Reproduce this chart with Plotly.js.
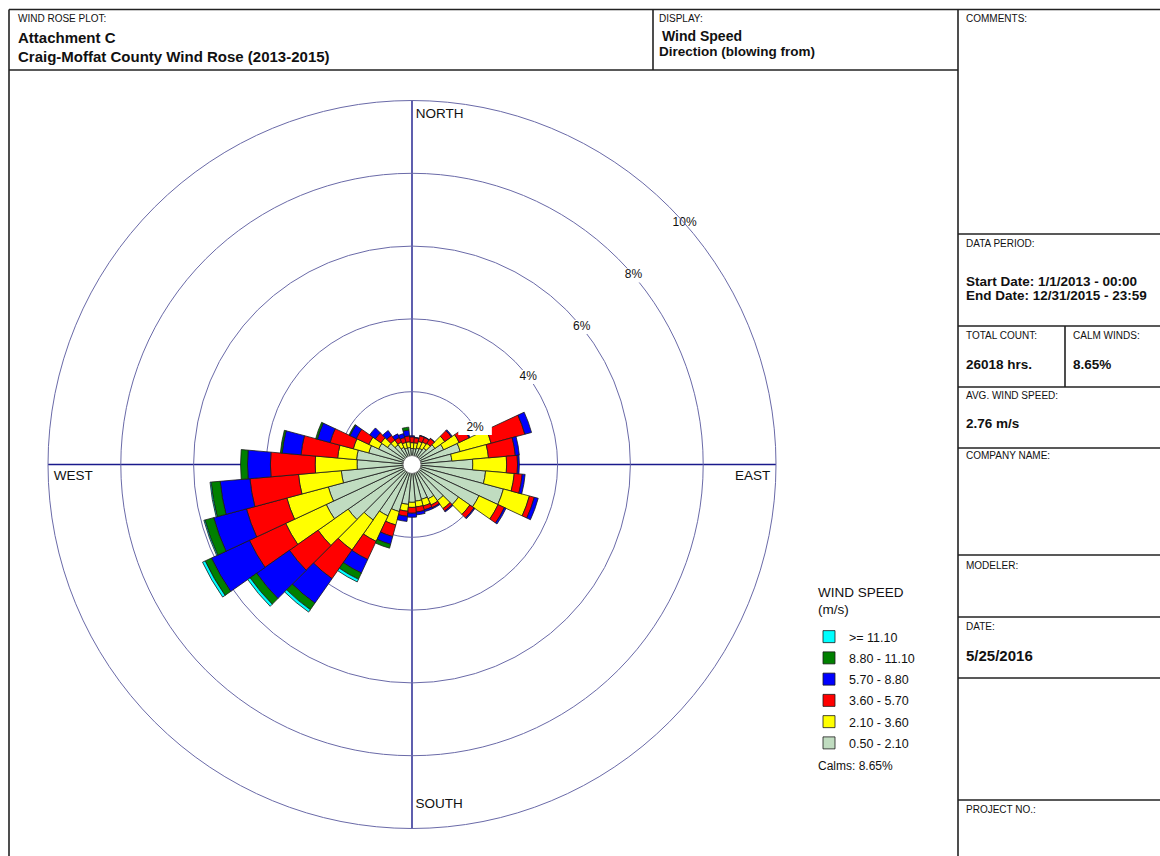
<!DOCTYPE html>
<html><head><meta charset="utf-8">
<script src="https://cdn.plot.ly/plotly-3.0.1.min.js"></script>
<style>html,body{margin:0;padding:0;background:#fff;} #chart{width:1160px;height:856px;}</style>
</head><body><div id="chart"></div>
<script>
// ---------------- DATA ----------------
const directions = [0,10,20,30,40,50,60,70,80,90,100,110,120,130,140,150,160,170,
                    180,190,200,210,220,230,240,250,260,270,280,290,300,310,320,330,340,350];
const speedClasses = ['0.50 - 2.10','2.10 - 3.60','3.60 - 5.70','5.70 - 8.80','8.80 - 11.10','>= 11.10'];
// frequency (%) per direction for each wind speed class (blowing from)
const freq_050_210 = [0.44,0.44,0.47,0.49,0.55,0.77,0.96,1.37,1.10,1.67,2.03,2.60,2.03,1.56,1.21,1.04,0.99,1.01,
                      1.04,1.10,1.34,1.56,1.86,2.14,2.60,2.38,1.95,1.51,1.53,1.23,1.01,0.82,0.66,0.52,0.47,0.47];
const freq_210_360 = [0.16,0.16,0.19,0.19,0.16,0.33,0.47,0.88,1.01,0.93,0.79,0.74,0.58,0.38,0.27,0.19,0.19,0.16,
                      0.14,0.19,0.38,0.77,1.01,1.01,1.23,1.18,1.18,1.15,0.52,0.44,0.30,0.22,0.16,0.16,0.16,0.16];
const freq_360_570 = [0.16,0.14,0.16,0.14,0.16,0.22,0.30,0.96,0.74,0.30,0.22,0.14,0.19,0.14,0.08,0.08,0.11,0.14,
                      0.16,0.14,0.33,0.55,0.96,0.96,1.10,1.15,1.34,1.23,1.01,0.66,0.38,0.19,0.16,0.14,0.14,0.16];
const freq_570_880 = [0.03,0.01,0.01,0.01,0.01,0.03,0.03,0.19,0.11,0.05,0.08,0.11,0.05,0.03,0.03,0.03,0.05,0.08,
                      0.11,0.14,0.22,0.41,0.82,1.10,1.15,0.93,0.82,0.63,0.52,0.36,0.19,0.19,0.16,0.11,0.11,0.16];
const freq_880_1110 = [0,0,0,0,0,0,0,0,0,0,0,0,0,0,0,0,0,0,
                      0,0,0.11,0.19,0.22,0.22,0.19,0.25,0.25,0.19,0.05,0.05,0.03,0,0,0,0,0.08];
const freq_ge_1110 = [0,0,0,0,0,0,0,0,0,0,0,0,0,0,0,0,0,0,
                      0,0,0,0.08,0.08,0.08,0.08,0.03,0.03,0,0,0,0,0,0,0,0,0];
const ringValues = [2,4,6,8,10];
const ringLabels = ['2%','4%','6%','8%','10%'];
const compassLabels = ['NORTH','EAST','SOUTH','WEST'];
const calmsText = 'Calms: 8.65%';

// ---------------- STYLE ----------------
const FONT = '"Liberation Sans", Arial, Helvetica, sans-serif';
const classColors = ['#C0DCC0','#FFFF00','#FF0000','#0000FF','#008000','#00FFFF'];
const classSeries = [freq_050_210,freq_210_360,freq_360_570,freq_570_880,freq_880_1110,freq_ge_1110];
const ringColor = '#6A6AA8';
const axisColor = '#1A1A8C';
const ringLabelTheta = [60,53,51,49.5,48.5];
const compassLabelTheta = [0.6,92,179.4,268];
const compassLabelR = [9.6,9.85,9.35,9.85];

const traces = classSeries.map((vals,i)=>({
  type:'barpolar', r: vals, theta: directions, name: speedClasses[i], legendgroup:'g'+i, legendrank: 100-i,
  marker:{color: classColors[i], line:{color:'#1a1a1a', width:0.8}},
  hoverinfo:'skip'
}));
// calm circle at centre
traces.push({type:'scatterpolar', r:[0], theta:[0], mode:'markers', showlegend:false, hoverinfo:'skip',
  marker:{size:18, color:'#ffffff', line:{color:'#777777', width:1}}});
// ring labels
traces.push({type:'scatterpolar', r: ringValues, theta: ringLabelTheta, mode:'markers+text', text: ringLabels,
  textposition:'middle center', showlegend:false, hoverinfo:'skip', cliponaxis:false,
  textfont:{family:FONT, size:12, color:'#111'},
  marker:{symbol:'line-ew', size:24, color:'#ffffff', line:{color:'#ffffff', width:14}}});
// compass labels
traces.push({type:'scatterpolar', r: compassLabelR, theta: compassLabelTheta, mode:'text', text: compassLabels,
  textposition:['middle right','middle left','middle right','middle right'], showlegend:false, hoverinfo:'skip', cliponaxis:false,
  textfont:{family:FONT, size:13.5, color:'#111'}});

const W=1160, H=856;
const px = x=>x/W, py = y=>1-y/H;
const shapes = [];
function line(x0,y0,x1,y1){shapes.push({type:'line',xref:'paper',yref:'paper',x0:px(x0),y0:py(y0),x1:px(x1),y1:py(y1),line:{color:'#222',width:1.6}});}
line(9,9.5,1160,9.5);      // top
line(9,9.5,9,856);         // left
line(9,70,958,70);         // under header
line(653,9.5,653,70);      // header divider
line(958,9.5,958,856);     // right column
line(958,234,1160,234);
line(958,326,1160,326);
line(1065,326,1065,387);
line(958,387,1160,387);
line(958,448,1160,448);
line(958,555,1160,555);
line(958,617,1160,617);
line(958,678,1160,678);
line(958,800,1160,800);

const annotations = [];
function txt(x,y,t,size,bold){annotations.push({xref:'paper',yref:'paper',x:px(x),y:py(y),xanchor:'left',yanchor:'middle',
  showarrow:false,text: bold?('<b>'+t+'</b>'):t, font:{family:FONT,size:size,color:'#111'}});}
txt(16,18,'WIND ROSE PLOT:',10);
txt(16,37,'Attachment C',15,true);
txt(16,57,'Craig-Moffat County Wind Rose (2013-2015)',15,true);
txt(657,18,'DISPLAY:',10);
txt(660,36,'Wind Speed',14,true);
txt(657,52,'Direction (blowing from)',13.5,true);
txt(964,19,'COMMENTS:',10);
txt(964,243,'DATA PERIOD:',10);
txt(964,281,'Start Date: 1/1/2013 - 00:00',13.5,true);
txt(964,296,'End Date: 12/31/2015 - 23:59',13.5,true);
txt(964,335,'TOTAL COUNT:',10);
txt(1071,335,'CALM WINDS:',10);
txt(964,364,'26018 hrs.',13.5,true);
txt(1071,364,'8.65%',13.5,true);
txt(964,395,'AVG. WIND SPEED:',10);
txt(964,424,'2.76 m/s',13.5,true);
txt(964,456,'COMPANY NAME:',10);
txt(964,565,'MODELER:',10);
txt(964,626,'DATE:',10);
txt(964,655,'5/25/2016',15,true);
txt(964,809,'PROJECT NO.:',10);
txt(816,592,'WIND SPEED',13.5);
txt(816,609,'(m/s)',13.5);
txt(816,766,calmsText,12);

const layout = {
  width:W, height:H, margin:{l:0,r:0,t:0,b:0}, paper_bgcolor:'#fff',
  font:{family:FONT, color:'#111'},
  showlegend:true,
  legend:{x:px(809), xanchor:'left', y:py(622), yanchor:'top', traceorder:'grouped', tracegroupgap:2,
    font:{family:FONT,size:12.5}, bgcolor:'rgba(0,0,0,0)'},
  polar:{
    domain:{x:[px(48),px(776)], y:[py(828.5),py(100.5)]},
    bgcolor:'#fff', barmode:'stack', bargap:0, hole:0,
    radialaxis:{range:[0,10], tickvals:[2,4,6,8], showticklabels:false, ticks:'', showline:false,
      gridcolor:ringColor, gridwidth:1},
    angularaxis:{rotation:90, direction:'clockwise', tickvals:[0,90,180,270], showticklabels:false, ticks:'',
      gridcolor:axisColor, gridwidth:1.4, showline:true, linecolor:ringColor, linewidth:1}
  },
  shapes, annotations
};
Plotly.newPlot('chart', traces, layout, {staticPlot:true});
</script></body></html>
